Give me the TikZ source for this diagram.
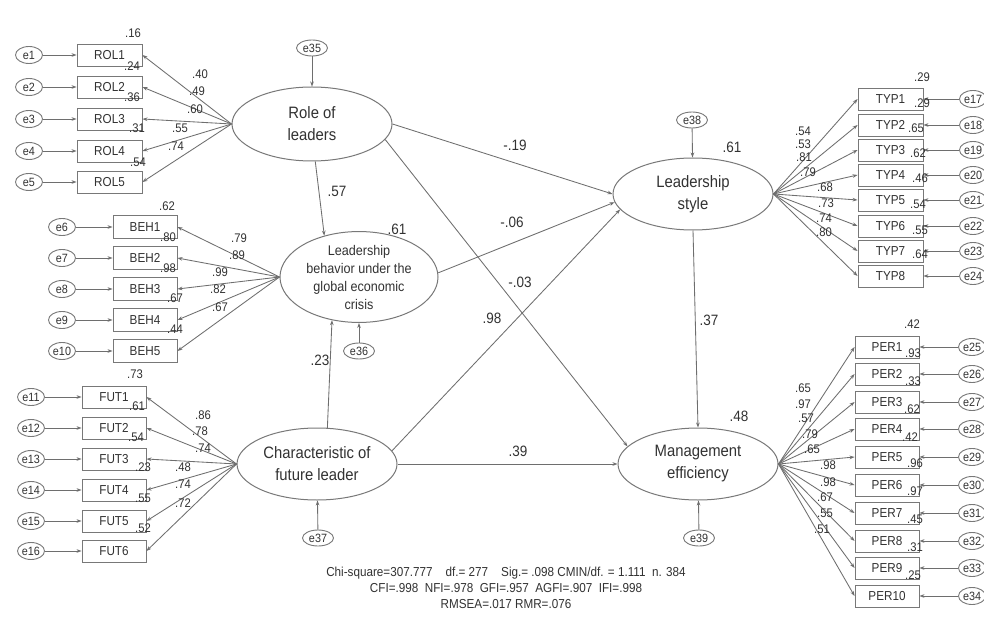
\documentclass[tikz,border=0pt]{standalone}
\usepackage{fontspec}
\setmainfont{Liberation Sans}[FakeStretch=0.9]
\usetikzlibrary{shapes.geometric,arrows.meta}
\definecolor{lc}{RGB}{110,110,110}
\definecolor{bc}{RGB}{120,120,120}
\definecolor{tc}{RGB}{50,50,50}
\tikzset{
  ln/.style={draw=lc, line width=0.85pt},
  arr/.style={ln, -{Stealth[length=5pt,width=3.6pt]}},
  obs/.style={draw=bc, line width=0.9pt, minimum width=65pt, minimum height=22pt, inner sep=0pt, text=tc, font=\fontsize{13}{13}\selectfont},
  err/.style={ellipse, draw=bc, line width=0.9pt, minimum width=27pt, minimum height=17pt, inner sep=0pt, text=tc, font=\fontsize{12}{12}\selectfont},
  errs/.style={err, minimum width=31pt, minimum height=16pt},
  lat/.style={ellipse, draw=bc, line width=1pt, minimum width=160pt, minimum height=72pt, inner sep=0pt, align=center, text=tc, font=\fontsize{16.5}{22}\selectfont},
  num/.style={inner sep=0pt, text=tc, font=\fontsize{12.5}{12}\selectfont},
  bignum/.style={inner sep=0pt, text=tc, font=\fontsize{15}{15}\selectfont},
  fit/.style={inner sep=0pt, align=center, text=tc, font=\fontsize{13}{16}\selectfont}
}
\begin{document}
\begin{tikzpicture}[x=1pt,y=-1pt]
\useasboundingbox[fill=white] (0,0) rectangle (984,617);

% latent variables
\node[lat, minimum height=74pt] (role) at (312,124) {Role of\\leaders};
\node[lat, minimum width=158pt, minimum height=70pt, font=\fontsize{14}{18}\selectfont] (behav) at (359,277) {Leadership\\behavior under the\\global economic\\crisis};
\node[lat] (charf) at (317,464) {Characteristic of\\future leader};
\node[lat] (style) at (693,194) {Leadership\\style};
\node[lat] (mgmt) at (698,464) {Management\\efficiency};

% structural errors
\node[errs] (e35) at (312,48) {e35};
\node[errs] (e36) at (359,351) {e36};
\node[errs] (e37) at (318,538) {e37};
\node[errs] (e38) at (692,120) {e38};
\node[errs] (e39) at (699,538) {e39};
\draw[arr] (e35) -- (role);
\draw[arr] (e36) -- (behav);
\draw[arr] (e37) -- (charf);
\draw[arr] (e38) -- (style);
\draw[arr] (e39) -- (mgmt);

% structural paths
\draw[arr] (role.east) -- (style.west);
\draw[arr] (role.-12) -- (mgmt.166);
\draw[arr] (role.-85) -- (behav.130);
\draw[arr] (behav.3) -- (style.186);
\draw[arr] (charf.10) -- (style.192);
\draw[arr] (charf.74) -- (behav.238);
\draw[arr] (charf.east) -- (mgmt.west);
\draw[arr] (style.south) -- (mgmt.north);

% ROL indicators
\foreach \i/\y in {1/55,2/87,3/119,4/151,5/182}{
  \node[obs] (rol\i) at (109.5,\y) {ROL\i};
  \node[err] (e\i) at (29,\y) {e\i};
  \draw[arr] (e\i) -- (rol\i);
  \draw[arr] (role.west) -- (rol\i.east);
}
% BEH indicators
\foreach \i/\y [evaluate=\i as \k using int(\i+5)] in {1/227,2/258,3/289,4/320,5/351}{
  \node[obs, minimum width=64pt, minimum height=23pt] (beh\i) at (145,\y) {BEH\i};
  \node[err] (e\k) at (62,\y) {e\k};
  \draw[arr] (e\k) -- (beh\i);
  \draw[arr] (behav.west) -- (beh\i.east);
}
% FUT indicators
\foreach \i/\y [evaluate=\i as \k using int(\i+10)] in {1/397,2/428,3/459,4/490,5/521,6/551}{
  \node[obs, minimum width=64pt] (fut\i) at (114,\y) {FUT\i};
  \node[err] (e\k) at (31,\y) {e\k};
  \draw[arr] (e\k) -- (fut\i);
  \draw[arr] (charf.west) -- (fut\i.east);
}
% TYP indicators
\foreach \i/\y [evaluate=\i as \k using int(\i+16)] in {1/99,2/125,3/150,4/175,5/200,6/226,7/251,8/276}{
  \node[obs] (typ\i) at (890.5,\y) {TYP\i};
  \node[err] (e\k) at (973,\y) {e\k};
  \draw[arr] (e\k) -- (typ\i);
  \draw[arr] (style.east) -- (typ\i.west);
}
% PER indicators
\foreach \i/\y [evaluate=\i as \k using int(\i+24)] in {1/347,2/374,3/402,4/429,5/457,6/485,7/513,8/541,9/568,10/596}{
  \node[obs, minimum width=64pt] (per\i) at (887,\y) {PER\i};
  \node[err] (e\k) at (972,\y) {e\k};
  \draw[arr] (e\k) -- (per\i);
  \draw[arr] (mgmt.east) -- (per\i.west);
}

% structural coefficients
\foreach \n/\t/\x/\y in {a/.57/337/191, b/.61/397/229, c/-.19/515/145, d/.61/732/147,
  e/-.06/512/222, f/-.03/520/282, g/.98/492/318, h/.37/709/320, i/.23/320/360,
  j/.39/518/451, k/.48/739/416}{
  \node[bignum] (s\n) at (\x,\y) {\t};
}

% measurement labels
\foreach \n/\t/\x/\y in {
  r1/.16/133/33, r2/.24/132/66, r3/.36/132/97, r4/.31/137/128, r5/.54/138/162,
  r6/.40/200/74, r7/.49/197/91, r8/.60/195/109, r9/.55/180/128, r10/.74/176/146,
  b1/.62/167/206, b2/.80/168/237, b3/.98/168/268, b4/.67/175/298, b5/.44/175/329,
  b6/.79/239/238, b7/.89/237/255, b8/.99/220/272, b9/.82/218/289, b10/.67/220/307,
  f1/.73/135/374, f2/.61/137/406, f3/.54/136/437, f4/.23/143/467, f5/.55/143/498, f6/.52/143/528,
  f7/.86/203/415, f8/.78/200/431, f9/.74/203/448, f10/.48/183/467, f11/.74/183/484, f12/.72/183/503,
  t1/.29/922/77, t2/.29/922/103, t3/.65/916/128, t4/.62/918/153, t5/.46/920/178, t6/.54/918/204, t7/.55/920/230, t8/.64/920/254,
  t9/.54/803/131, t10/.53/803/144, t11/.81/804/157, t12/.79/808/172, t13/.68/825/187, t14/.73/826/203, t15/.74/824/218, t16/.80/824/232,
  p1/.42/912/324, p2/.93/913/353, p3/.33/913/381, p4/.62/912/409, p5/.42/910/437, p6/.96/915/463, p7/.97/915/491, p8/.45/915/519, p9/.31/915/547, p10/.25/913/575,
  p11/.65/803/388, p12/.97/803/404, p13/.57/806/418, p14/.79/810/434, p15/.65/812/449, p16/.98/828/465, p17/.98/828/482, p18/.67/825/497, p19/.55/825/513, p20/.51/822/529}{
  \node[num] (m\n) at (\x,\y) {\t};
}

% fit indices
\node[fit] (fitidx) at (506,588) {Chi-square=307.777\quad df.= 277\quad Sig.= .098 CMIN/df. = 1.111\ \ n. 384\\CFI=.998\ \ NFI=.978\ \ GFI=.957\ \ AGFI=.907\ \ IFI=.998\\RMSEA=.017 RMR=.076};
\end{tikzpicture}
\end{document}
